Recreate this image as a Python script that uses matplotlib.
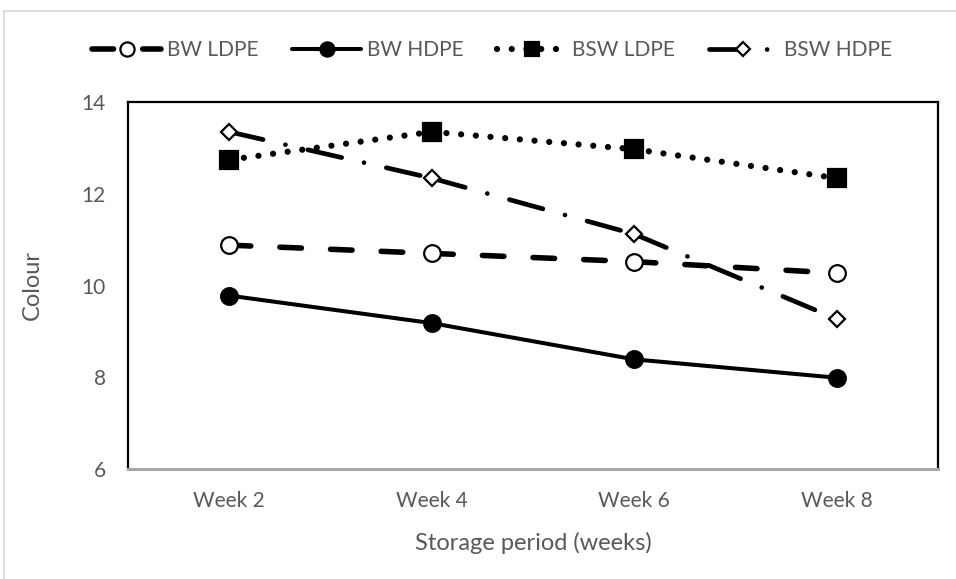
import matplotlib
matplotlib.use("Agg")
import matplotlib.pyplot as plt
from matplotlib.lines import Line2D

# colour score per storage week
weeks = ["Week 2", "Week 4", "Week 6", "Week 8"]
bw_ldpe = [10.88, 10.70, 10.52, 10.27]
bw_hdpe = [9.78, 9.18, 8.39, 7.99]
bsw_ldpe = [12.74, 13.35, 12.97, 12.34]
bsw_hdpe = [13.35, 12.34, 11.12, 9.27]

plt.rcParams['font.family'] = ['Lato', 'DejaVu Sans']
plt.rcParams['lines.scale_dashes'] = False
grey = '#595959'

# line style, marker, marker size, face colour, line width
styles = {
    'BW LDPE': dict(dashes=(15.5, 21), marker='o', ms=12, mfc='white', lw=4.0),
    'BW HDPE': dict(dashes=None, marker='o', ms=12, mfc='black', lw=2.9),
    'BSW LDPE': dict(dashes=(0.01, 10.6), marker='s', ms=12.5, mfc='black', lw=4.5),
    'BSW HDPE': dict(dashes=(25, 16.5, 0.01, 16.5), marker='D', ms=8, mfc='white', lw=3.4),
}
series = {'BW LDPE': bw_ldpe, 'BW HDPE': bw_hdpe, 'BSW LDPE': bsw_ldpe, 'BSW HDPE': bsw_hdpe}

fig = plt.figure(figsize=(9.56, 5.79), dpi=100)
ax = fig.add_axes([128/956, 1-469/579, 810/956, 367/579])

x = list(range(len(weeks)))
handles = []
for name, vals in series.items():
    st = styles[name]
    # each segment restarts the dash pattern at its left point
    for i in range(len(x) - 1):
        seg, = ax.plot(x[i:i+2], vals[i:i+2], color='black', lw=st['lw'],
                       solid_capstyle='round', dash_capstyle='round', zorder=2)
        if st['dashes'] is not None:
            seg.set_dashes(st['dashes'])
    ax.plot(x, vals, linestyle='none', marker=st['marker'], ms=st['ms'],
            mfc=st['mfc'], mec='black', mew=1.6, zorder=3)
    h = Line2D([0], [0], color='black', lw=st['lw'], marker=st['marker'],
               ms=st['ms'] * 0.85, mfc=st['mfc'], mec='black', mew=1.6,
               solid_capstyle='round', dash_capstyle='round')
    if st['dashes'] is not None:
        h.set_dashes(st['dashes'])
    handles.append(h)

ax.set_xlim(-0.5, 3.5)
ax.set_ylim(6, 14)
ax.set_yticks([6, 8, 10, 12, 14])
ax.set_xticks(x)
ax.set_xticklabels(weeks)
ax.tick_params(length=0, pad=16, labelsize=15, labelcolor=grey)

for side in ['left', 'top', 'right']:
    ax.spines[side].set_linewidth(1.6)
    ax.spines[side].set_color('black')
ax.spines['bottom'].set_color('#a6a6a6')
ax.spines['bottom'].set_linewidth(2.2)

ax.set_xlabel('Storage period (weeks)', fontsize=17, color=grey, labelpad=15)
ax.set_ylabel('Colour', fontsize=17, color=grey, labelpad=28)

fig.legend(handles, list(series.keys()), loc='center', ncol=4, frameon=False,
           bbox_to_anchor=(492/956, 1-50/579), fontsize=15, labelcolor=grey,
           handlelength=3.3, handletextpad=0.3, columnspacing=1.6)

# light outer frame of the chart area
fig.add_artist(Line2D([4/956, 4/956], [0, 1-11/579], color='#d9d9d9', lw=1.2))
fig.add_artist(Line2D([4/956, 1], [1-11/579, 1-11/579], color='#d9d9d9', lw=1.2))

fig.savefig('out.png', dpi=100)
